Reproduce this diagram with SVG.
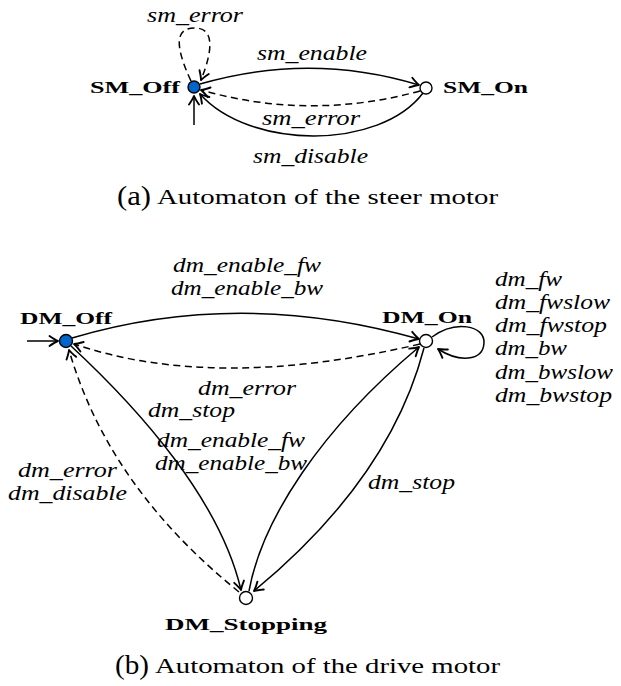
<svg xmlns="http://www.w3.org/2000/svg" width="621" height="686" viewBox="0 0 621 686">
<style>
.lbl{font-family:"Liberation Serif",serif;font-style:italic;font-size:20px;fill:#000}
.nm{font-family:"Liberation Serif",serif;font-weight:bold;font-size:17px;fill:#000}
.cap{font-family:"Liberation Serif",serif;font-size:21px;fill:#000}
.capl{font-family:"Liberation Serif",serif;font-size:27px;fill:#000}
.e{fill:none;stroke:#000;stroke-width:1.5;marker-end:url(#arr)}
.d{stroke-dasharray:7 4.5}
.init{fill:#0066cc;stroke:#000;stroke-width:1.4}
.st{fill:#fff;stroke:#000;stroke-width:1.4}
</style>
<defs>
<marker id="arr" markerUnits="userSpaceOnUse" viewBox="-12 -7 14 14" markerWidth="14" markerHeight="14" refX="0" refY="0" orient="auto" overflow="visible">
<path d="M-8.5,-5 Q-3,-1.2 0,0 Q-3,1.2 -8.5,5" fill="none" stroke="#000" stroke-width="1.9" stroke-linecap="round" stroke-linejoin="round"/>
</marker>
</defs>
<g id="connectors">
<path class="e" d="M194,125 L194,96"/>
<path class="e d" d="M191,81 C172,40 178,28 195,28 C212,28 215,45 201,80"/>
<path class="e" d="M200,84 Q310,52 419,85"/>
<path class="e d" d="M420,91 Q310,121 201,90"/>
<path class="e" d="M423,93 C380,150 250,150 200,94"/>
<path class="e" d="M27,341 L58,341"/>
<path class="e" d="M72,338 Q240,288 419,339"/>
<path class="e d" d="M420,344 Q215,392 74,344"/>
<path class="e" d="M71,346 C140,410 220,500 241,590"/>
<path class="e" d="M249,591 C262,520 320,430 419,347"/>
<path class="e" d="M424,348 C400,440 340,520 254,591"/>
<path class="e d" d="M239,592 C150,520 95,440 69,350"/>
<path class="e" d="M432,337 C455,320 485,325 484,343 C483,362 458,362 438,349"/>
</g>
<g id="SM_Off"><circle class="init" cx="194" cy="87" r="6"/><text class="nm" x="90" y="93" textLength="90" lengthAdjust="spacingAndGlyphs">SM_Off</text></g>
<g id="SM_On"><circle class="st" cx="426" cy="88" r="6"/><text class="nm" x="443" y="93" textLength="85" lengthAdjust="spacingAndGlyphs">SM_On</text></g>
<g id="DM_Off"><circle class="init" cx="66" cy="341" r="6.5"/><text class="nm" x="20" y="324" textLength="92" lengthAdjust="spacingAndGlyphs">DM_Off</text></g>
<g id="DM_On"><circle class="st" cx="426" cy="341" r="6.5"/><text class="nm" x="382" y="323" textLength="90" lengthAdjust="spacingAndGlyphs">DM_On</text></g>
<g id="DM_Stopping"><circle class="st" cx="246" cy="598" r="6.5"/><text class="nm" x="165" y="630" textLength="162" lengthAdjust="spacingAndGlyphs">DM_Stopping</text></g>
<g id="labels">
<text class="lbl" x="147" y="22" textLength="96" lengthAdjust="spacingAndGlyphs">sm_error</text>
<text class="lbl" x="257" y="60" textLength="110" lengthAdjust="spacingAndGlyphs">sm_enable</text>
<text class="lbl" x="262" y="125" textLength="98" lengthAdjust="spacingAndGlyphs">sm_error</text>
<text class="lbl" x="253" y="163" textLength="115" lengthAdjust="spacingAndGlyphs">sm_disable</text>
<text class="lbl" x="173" y="272" textLength="148" lengthAdjust="spacingAndGlyphs">dm_enable_fw</text>
<text class="lbl" x="171" y="295" textLength="152" lengthAdjust="spacingAndGlyphs">dm_enable_bw</text>
<text class="lbl" x="198" y="395" textLength="98" lengthAdjust="spacingAndGlyphs">dm_error</text>
<text class="lbl" x="148" y="417" textLength="87" lengthAdjust="spacingAndGlyphs">dm_stop</text>
<text class="lbl" x="157" y="447" textLength="148" lengthAdjust="spacingAndGlyphs">dm_enable_fw</text>
<text class="lbl" x="155" y="470" textLength="152" lengthAdjust="spacingAndGlyphs">dm_enable_bw</text>
<text class="lbl" x="368" y="489" textLength="87" lengthAdjust="spacingAndGlyphs">dm_stop</text>
<text class="lbl" x="18" y="477" textLength="99" lengthAdjust="spacingAndGlyphs">dm_error</text>
<text class="lbl" x="8" y="500" textLength="119" lengthAdjust="spacingAndGlyphs">dm_disable</text>
<text class="lbl" x="495" y="286" textLength="67" lengthAdjust="spacingAndGlyphs">dm_fw</text>
<text class="lbl" x="495" y="309" textLength="115" lengthAdjust="spacingAndGlyphs">dm_fwslow</text>
<text class="lbl" x="495" y="332" textLength="112" lengthAdjust="spacingAndGlyphs">dm_fwstop</text>
<text class="lbl" x="495" y="355" textLength="72" lengthAdjust="spacingAndGlyphs">dm_bw</text>
<text class="lbl" x="495" y="379" textLength="118" lengthAdjust="spacingAndGlyphs">dm_bwslow</text>
<text class="lbl" x="495" y="402" textLength="117" lengthAdjust="spacingAndGlyphs">dm_bwstop</text>
</g>
<g id="captions">
<text class="capl" x="117" y="205" textLength="34" lengthAdjust="spacingAndGlyphs">(a)</text>
<text class="cap" x="157" y="204" textLength="341" lengthAdjust="spacingAndGlyphs">Automaton of the steer motor</text>
<text class="capl" x="115" y="674" textLength="34" lengthAdjust="spacingAndGlyphs">(b)</text>
<text class="cap" x="155" y="673" textLength="345" lengthAdjust="spacingAndGlyphs">Automaton of the drive motor</text>
</g>
</svg>
